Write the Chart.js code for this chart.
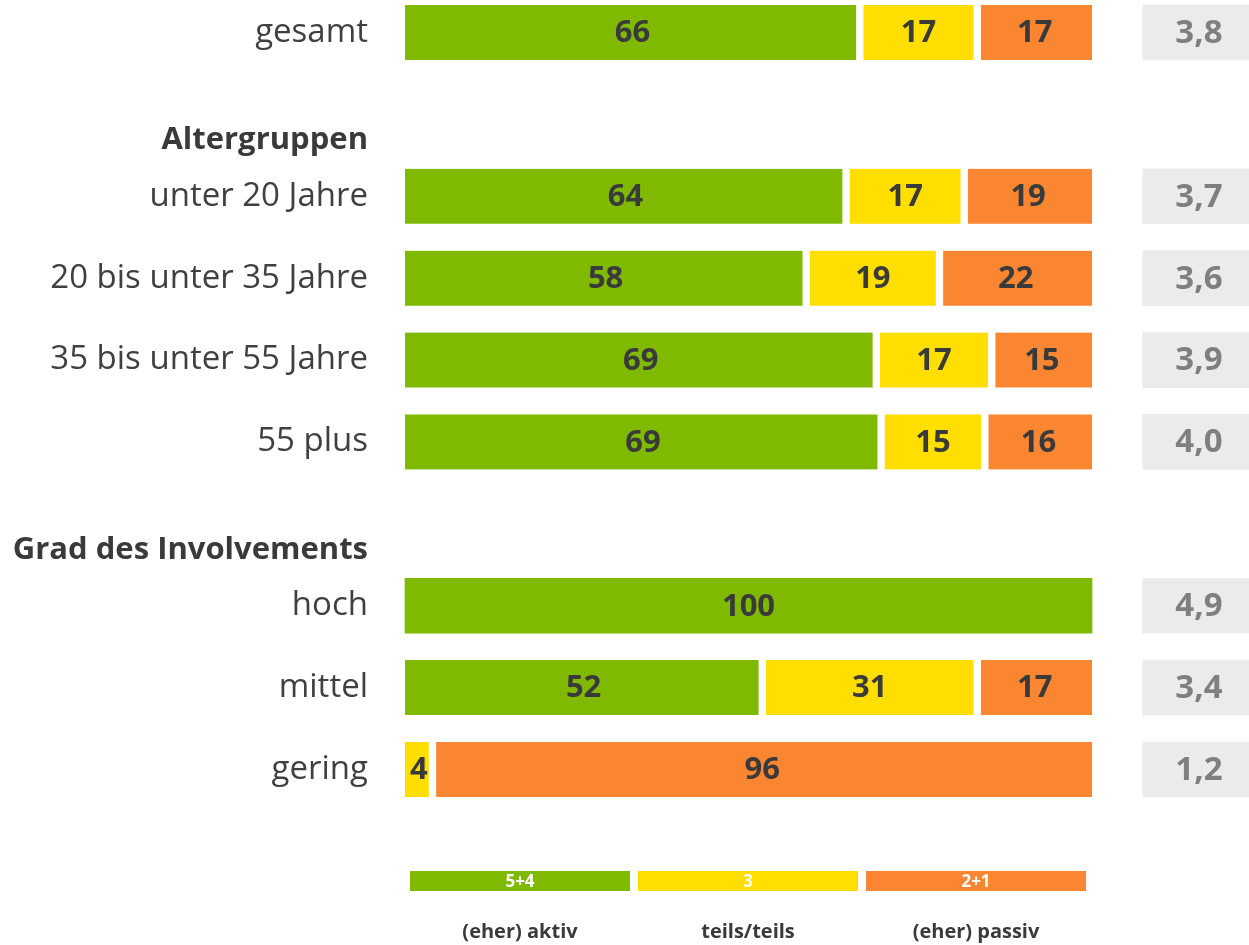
<!DOCTYPE html>
<html>
<head>
<meta charset="utf-8">
<script src="https://cdn.jsdelivr.net/npm/chart.js@4.4.1/dist/chart.umd.min.js"></script>
<style>
    body { margin: 0; background: #fff; font-family: "Open Sans", sans-serif; }
    #wrap { position: relative; width: 1249px; height: 945px; }
    .key { position: absolute; top: 871px; width: 220px; height: 20px; line-height: 20px;
           text-align: center; color: #fff; font-weight: bold; font-size: 17px; }
    .keyLabel { position: absolute; top: 917px; width: 228px; text-align: center;
                color: #3a3a3a; font-weight: bold; font-size: 20px; }
</style>
</head>
<body>
<div id="wrap">
    <canvas id="chart" width="1249" height="945"></canvas>
    <div id="legend"></div>
</div>
<script>
// rows (header rows have no data)
const rowLabels = ['gesamt', 'Altergruppen', 'unter 20 Jahre', '20 bis unter 35 Jahre',
    '35 bis unter 55 Jahre', '55 plus', 'Grad des Involvements', 'hoch', 'mittel', 'gering'];
const headerRows = [1, 6];

// shares in percent (labels show them rounded)
const aktiv  = [66.2, null, 64.2, 58.4, 68.6, 69.3, null, 100, 52.0, null];
const teils  = [17.1, null, 17.2, 19.4, 16.8, 15.1, null, null, 31.3, 4.0];
const passiv = [16.7, null, 18.6, 22.2, 14.6, 15.6, null, null, 16.7, 96.0];

// mean score (scale 1-5)
const mittelwert = [3.8, null, 3.7, 3.6, 3.9, 4.0, null, 4.9, 3.4, 1.2];

const seriesNames = ['(eher) aktiv', 'teils/teils', '(eher) passiv'];
const seriesCodes = ['5+4', '3', '2+1'];
const seriesColors = ['#80ba00', '#ffde00', '#fa8632'];

const textColor = '#3a3a3a';
const fontFamily = '"Open Sans", sans-serif';

// x range beyond 100 holds the grey mean boxes
const xMax = 122.85;
const meanBox = [107.4, xMax];

const segments = [aktiv, teils, passiv];

// white gap between neighbouring segments
function gapBorder(ctx) {
    const i = ctx.dataIndex, d = ctx.datasetIndex;
    const before = segments.slice(0, d).some(s => s[i] > 0);
    const after = segments.slice(d + 1).some(s => s[i] > 0);
    return { left: before ? 4 : 0, right: after ? 4 : 0, top: 0, bottom: 0 };
}

const datasets = segments.map((values, d) => ({
    label: seriesNames[d],
    data: values,
    backgroundColor: seriesColors[d],
    borderColor: '#ffffff',
    borderWidth: gapBorder,
    borderSkipped: false,
    clip: false,
    stack: 'share'
}));

datasets.push({
    label: 'Mittelwert',
    data: mittelwert.map(v => v === null ? null : meanBox),
    backgroundColor: '#ebebeb',
    borderWidth: 0,
    clip: false,
    stack: 'mean',
    grouped: false
});

// numbers inside the bars and the mean boxes
const valueLabels = {
    id: 'valueLabels',
    afterDatasetsDraw(chart) {
        const c = chart.ctx;
        c.save();
        c.textAlign = 'center';
        c.textBaseline = 'middle';
        chart.data.datasets.forEach((ds, d) => {
            const meta = chart.getDatasetMeta(d);
            meta.data.forEach((bar, i) => {
                if (ds.data[i] === null) return;
                const x = (bar.x + bar.base) / 2;
                if (d < 3) {
                    c.font = 'bold 31px ' + fontFamily;
                    c.fillStyle = textColor;
                    c.fillText(Math.round(ds.data[i]), x, bar.y + 1);
                } else {
                    c.font = 'bold 33px ' + fontFamily;
                    c.fillStyle = '#7f7f7f';
                    c.fillText(mittelwert[i].toFixed(1).replace('.', ','), x + 3, bar.y + 1);
                }
            });
        });
        c.restore();
    }
};

// bold group headings, sitting a bit below their row
const groupHeaders = {
    id: 'groupHeaders',
    afterDraw(chart) {
        const c = chart.ctx;
        const y = chart.scales.y;
        c.save();
        c.textAlign = 'right';
        c.textBaseline = 'middle';
        c.font = 'bold 31px ' + fontFamily;
        c.fillStyle = textColor;
        headerRows.forEach(i => {
            c.fillText(rowLabels[i], y.right - 37, y.getPixelForValue(i) + 26);
        });
        c.restore();
    }
};

new Chart(document.getElementById('chart'), {
    type: 'bar',
    data: { labels: rowLabels, datasets: datasets },
    options: {
        indexAxis: 'y',
        responsive: false,
        animation: false,
        barThickness: 55,
        layout: { padding: { top: 32.5, bottom: 175.5, left: 0, right: 0 } },
        plugins: { legend: { display: false }, tooltip: { enabled: false } },
        scales: {
            x: { display: false, stacked: true, min: 0, max: xMax },
            y: {
                stacked: true,
                offset: false,
                border: { display: false },
                grid: { display: false, drawTicks: false },
                afterFit: scale => {
                    scale.width = 405;
                    // labels must not push the plot area down
                    scale.paddingTop = 0;
                    scale.paddingBottom = 0;
                },
                ticks: {
                    padding: 37,
                    color: '#404040',
                    font: { family: fontFamily, size: 33 },
                    callback: (v, i) => headerRows.includes(i) ? '' : rowLabels[i]
                }
            }
        }
    },
    plugins: [valueLabels, groupHeaders]
});

// legend
const legend = document.getElementById('legend');
seriesNames.forEach((name, i) => {
    const left = 410 + i * 228;
    legend.insertAdjacentHTML('beforeend', `
        <div class="key" style="left:${left}px;background:${seriesColors[i]}">${seriesCodes[i]}</div>
        <div class="keyLabel" style="left:${left - 4}px">${name}</div>
    `);
});
</script>
</body>
</html>
